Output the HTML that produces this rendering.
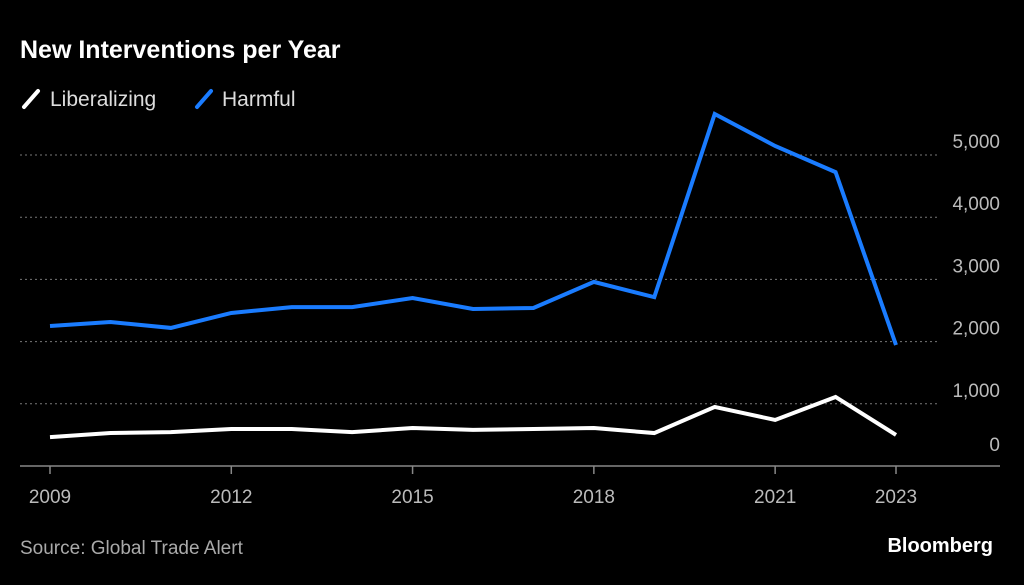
<!DOCTYPE html>
<html><head><meta charset="utf-8"><style>
body{margin:0;background:#000;width:1024px;height:580px;overflow:hidden;font-family:"Liberation Sans",sans-serif;}
</style></head><body>
<svg width="1024" height="580">
<rect width="1024" height="580" fill="#000"/>
<text x="20" y="58" fill="#fff" font-size="25" font-weight="bold">New Interventions per Year</text>
<g>
<line x1="24" y1="107" x2="38" y2="91" stroke="#fff" stroke-width="4" stroke-linecap="round"/>
<text x="50" y="106" fill="#ddd" font-size="21">Liberalizing</text>
<line x1="197" y1="107" x2="211" y2="91" stroke="#1a7cff" stroke-width="4" stroke-linecap="round"/>
<text x="222" y="106" fill="#ddd" font-size="21">Harmful</text>
</g>
<g id="grid"></g><g id="xt"></g><g id="lines"></g>
<text x="20" y="554" fill="#aaa" font-size="19">Source: Global Trade Alert</text>
<text x="993" y="552" fill="#fff" font-size="20" font-weight="bold" text-anchor="end">Bloomberg</text>
</svg>
<script>
const years=[2009,2010,2011,2012,2013,2014,2015,2016,2017,2018,2019,2020,2021,2022,2023];
const harmful=[2250,2315,2220,2460,2555,2555,2700,2525,2540,2960,2715,5660,5145,4725,1945];
const liberalizing=[465,530,545,595,595,545,610,580,595,610,530,950,740,1110,500];
const yTicks=[0,1000,2000,3000,4000,5000];
const yTickLabels=["0","1,000","2,000","3,000","4,000","5,000"];
const xTicks=[2009,2012,2015,2018,2021,2023];
const NS="http://www.w3.org/2000/svg";
const x=v=>50+(v-2009)*(896-50)/14;
const y=v=>466-v*0.0622;
function mk(tag,attrs,parent){const e=document.createElementNS(NS,tag);for(const k in attrs)e.setAttribute(k,attrs[k]);document.getElementById(parent).appendChild(e);return e;}
yTicks.forEach((t,i)=>{
  let l;
  if(t===0){l=mk('line',{x1:20,x2:1000,y1:y(t),y2:y(t),stroke:'#888','stroke-width':1.5},'grid');}
  else{l=mk('line',{x1:20,x2:940,y1:y(t),y2:y(t),stroke:'#777','stroke-width':1,'stroke-dasharray':'2,3'},'grid');}
  
  
  const tx=mk('text',{x:1000,y:y(t)-7+ (t===0?-0:0),fill:'#bbb','font-size':19,'text-anchor':'end'},'grid');
  tx.setAttribute('y', t===0? y(t)-15 : y(t)-7);
  tx.textContent=yTickLabels[i];
  
  
});
xTicks.forEach(t=>{
  const l=mk('line',{x1:x(t),x2:x(t),y1:466,y2:474,stroke:'#888','stroke-width':1.5},'xt');
  
  
  const tx=mk('text',{x:x(t),y:503,fill:'#bbb','font-size':19,'text-anchor':'middle'},'xt');
  tx.textContent=t;
  
  
});
function line(vals,color,name){
  const p=mk('polyline',{points:vals.map((v,i)=>x(years[i])+','+y(v)).join(' '),fill:'none',stroke:color,'stroke-width':4,'stroke-linejoin':'miter'},'lines');
  
  
}
line(liberalizing,'#ffffff','liberalizing-line');
line(harmful,'#1a7cff','harmful-line');
</script>
</body></html>
